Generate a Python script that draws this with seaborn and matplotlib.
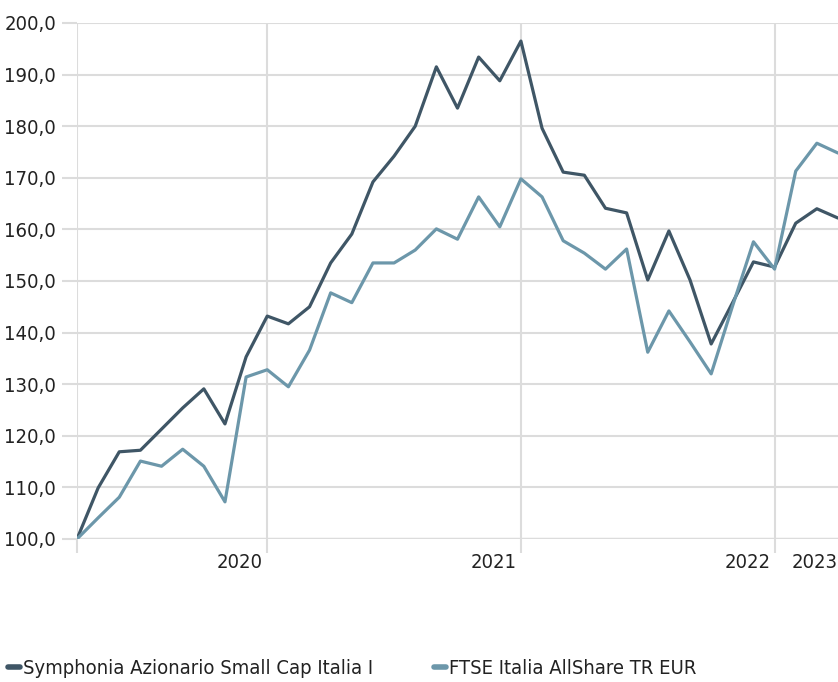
import numpy as np
import pandas as pd
import matplotlib
matplotlib.use("Agg")
import matplotlib.pyplot as plt
import seaborn as sns
from matplotlib import font_manager
from matplotlib.ticker import FuncFormatter

# Monthly values (index, base 100)
fund_name = "Symphonia Azionario Small Cap Italia I"
bench_name = "FTSE Italia AllShare TR EUR"
fund = [100.0, 109.9, 116.9, 117.2, 121.3, 125.4, 129.1, 122.3, 135.3, 143.2,
        141.7, 145.0, 153.5, 159.1, 169.2, 174.2, 180.0, 191.5, 183.5, 193.4,
        188.8, 196.5, 179.6, 171.1, 170.5, 164.1, 163.2, 150.2, 159.7, 150.2,
        137.8, 145.7, 153.7, 152.7, 161.2, 164.0, 162.2]
bench = [100.0, 104.1, 108.1, 115.1, 114.1, 117.4, 114.1, 107.2, 131.4, 132.8,
         129.5, 136.6, 147.7, 145.8, 153.5, 153.5, 156.0, 160.1, 158.1, 166.3,
         160.5, 169.8, 166.3, 157.8, 155.4, 152.3, 156.2, 136.2, 144.2, 138.2,
         132.0, 145.0, 157.6, 152.3, 171.3, 176.7, 174.8]
year_pos = [9, 21, 33, 36]
year_labels = ["2020", "2021", "2022", "2023"]
y_ticks = [100, 110, 120, 130, 140, 150, 160, 170, 180, 190, 200]

months = np.arange(len(fund))
df = pd.DataFrame({
    "month": np.concatenate([months, months]),
    "value": fund + bench,
    "series": [fund_name] * len(fund) + [bench_name] * len(bench),
})

sns.set_style("white")

# look for a narrow face, the original uses a condensed font
narrow = None
for f in font_manager.fontManager.ttflist:
    if f.stretch in ("condensed", "semi-condensed", "extra-condensed") or \
            "Narrow" in f.name or "Condensed" in f.name:
        narrow = f
        break
if narrow is not None:
    plt.rcParams["font.family"] = [narrow.name, "DejaVu Sans"]
    plt.rcParams["font.stretch"] = narrow.stretch
    fs = 14.5
else:
    plt.rcParams["font.family"] = ["Roboto", "DejaVu Sans"]
    fs = 13

dark = "#3f5666"
light = "#6c97aa"
grid = "#dcdcdc"
txt = "#222222"

fig = plt.figure(figsize=(8.38, 6.82), dpi=100)
ax = fig.add_axes([77 / 838, 143 / 682, 761 / 838, 516 / 682])

sns.lineplot(data=df, x="month", y="value", hue="series",
             palette={fund_name: dark, bench_name: light},
             hue_order=[fund_name, bench_name],
             linewidth=2.3, ax=ax, legend=False, zorder=3)

ax.set_xlim(0, 36)
ax.set_ylim(100, 200)
ax.set_yticks(y_ticks)
ax.yaxis.set_major_formatter(FuncFormatter(lambda v, p: f"{v:.1f}".replace(".", ",")))

# vertical grid at year boundaries + axis start
ax.set_xticks([0] + year_pos[:3])
ax.set_xticklabels([])
for x in [0] + year_pos[:3]:
    ax.axvline(x, color=grid, lw=1.5, zorder=1)
for y in y_ticks[1:]:
    ax.axhline(y, color=grid, lw=1.5, zorder=1)
ax.axhline(100, color=grid, lw=2.5, zorder=1)

ax.tick_params(axis="y", left=True, length=11, width=1.5, color=grid,
               labelsize=fs, labelcolor=txt, pad=4)
ax.tick_params(axis="x", bottom=True, length=10, width=1.5, color=grid)

for x, lab in zip(year_pos, year_labels):
    xx = 36 if lab == "2023" else x - 0.2
    ax.text(xx, 97.2, lab, ha="right", va="top", fontsize=fs, color=txt)

for s in ax.spines.values():
    s.set_visible(False)
ax.set_xlabel("")
ax.set_ylabel("")

# legend
handles = [plt.Line2D([], [], color=dark, lw=4), plt.Line2D([], [], color=light, lw=4)]
leg = fig.legend(handles, [fund_name, bench_name], loc="center left",
                 bbox_to_anchor=(8 / 838, 13 / 682), ncol=2, frameon=False,
                 handlelength=0.6, handletextpad=0.15, columnspacing=3.0,
                 fontsize=fs, borderaxespad=0.0, borderpad=0.0)
for t in leg.get_texts():
    t.set_color(txt)

fig.savefig("out.png", dpi=100)
